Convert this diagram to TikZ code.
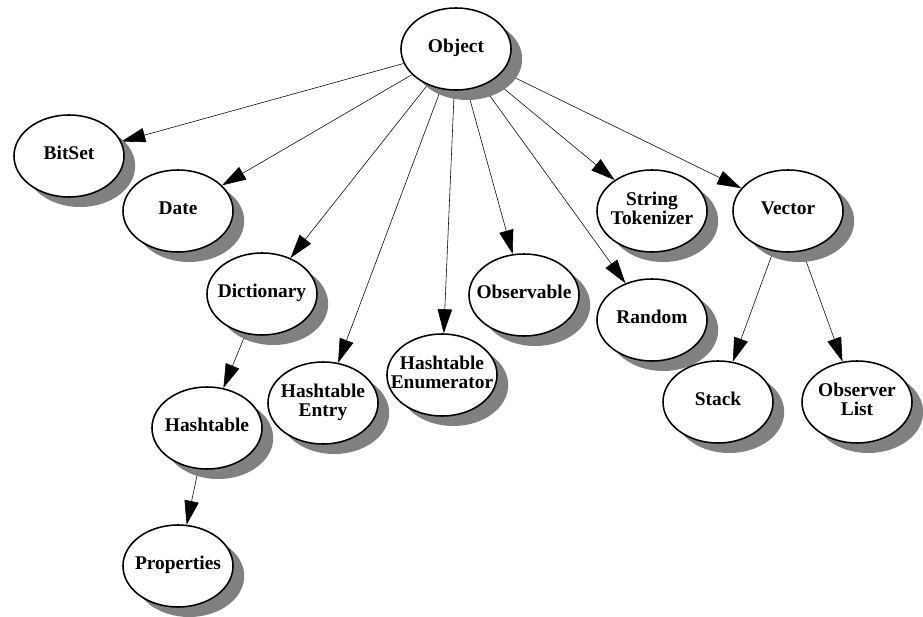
\documentclass[tikz,border=0pt]{standalone}
\usepackage{fontspec}
\setmainfont{Liberation Serif}
\usetikzlibrary{shapes.geometric,shadows,backgrounds,arrows.meta}
% label of fixed width, so every ellipse keeps the same size
\newcommand\lbl[1]{\makebox[0pt]{\begin{tabular}{@{}c@{}}#1\end{tabular}}}
\tikzset{
  cls/.style={ellipse, draw, line width=1.1pt, fill=white, minimum width=2.75cm,
    minimum height=2.05cm, inner sep=1pt,
    font=\fontsize{13.8}{13}\selectfont\bfseries,
    drop shadow={shadow xshift=0.28cm, shadow yshift=-0.25cm, fill=gray, opacity=1}},
  inh/.style={-{Triangle[length=0.6cm,width=0.36cm]}, line width=0.9pt}
}
\begin{document}
\begin{tikzpicture}[x=0.025cm, y=-0.025cm]
  \useasboundingbox (0,0) rectangle (923,617);
  \node[cls] (object) at (456,49) {\lbl{Object}};
  \node[cls] (bitset) at (69,156) {\lbl{BitSet}};
  \node[cls] (date) at (178,211) {\lbl{Date}};
  \node[cls] (dict) at (262,294) {\lbl{Dictionary}};
  \node[cls] (htab) at (207,428) {\lbl{Hashtable}};
  \node[cls] (props) at (178,566) {\lbl{Properties}};
  \node[cls] (hentry) at (323,403) {\lbl{Hashtable\\Entry}};
  \node[cls] (henum) at (442,375) {\lbl{Hashtable\\Enumerator}};
  \node[cls] (observable) at (524,295) {\lbl{Observable}};
  \node[cls] (random) at (652,320) {\lbl{Random}};
  \node[cls] (strtok) at (652,211) {\lbl{String\\Tokenizer}};
  \node[cls] (vector) at (788,211) {\lbl{Vector}};
  \node[cls] (stack) at (718,402) {\lbl{Stack}};
  \node[cls] (obslist) at (857,402) {\lbl{Observer\\List}};
  % inheritance
  \begin{scope}[on background layer, inh]
    \foreach \c in {bitset,date,dict,hentry,henum,observable,random,strtok,vector}
      \draw (object) -- (\c);
    \draw (dict) -- (htab);
    \draw (htab) -- (props);
    \draw (vector) -- (stack);
    \draw (vector) -- (obslist);
  \end{scope}
\end{tikzpicture}
\end{document}
